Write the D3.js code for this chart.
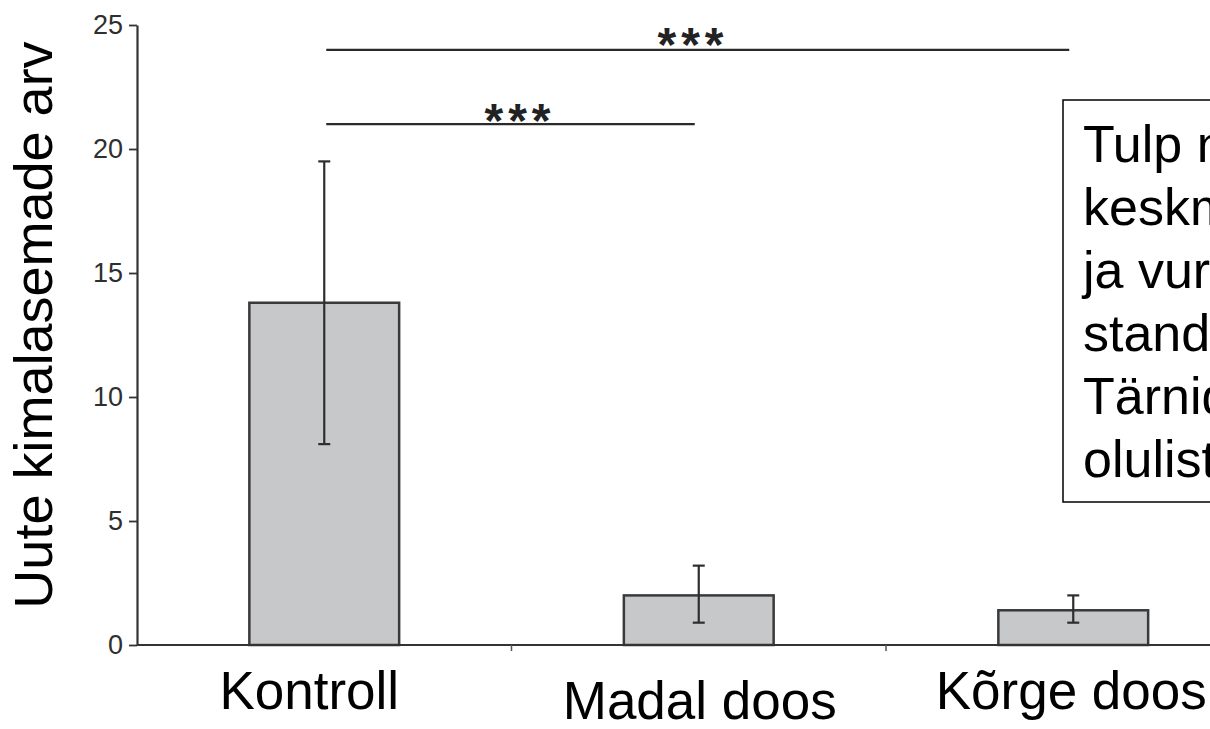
<!DOCTYPE html>
<html>
<head>
<meta charset="utf-8">
<script src="https://cdn.jsdelivr.net/npm/d3@7"></script>
<style>
  html, body { margin: 0; padding: 0; background: #fff; }
  svg { display: block; }
  text { font-family: Arial, "Liberation Sans", sans-serif; }
</style>
</head>
<body>
<svg id="chart" width="1210" height="729"></svg>
<script>
// Group names and measured means with the ends of their spread whiskers
const categories = ["Kontroll", "Madal doos", "Kõrge doos"];
const means = [13.8, 2.0, 1.4];
const whiskerLow = [8.1, 0.9, 0.9];
const whiskerHigh = [19.5, 3.2, 2.0];

// y-axis ticks
const yTicks = [0, 5, 10, 15, 20, 25];

// significance brackets: from group, to group, level, label
const bracketFrom = ["Kontroll", "Kontroll"];
const bracketTo = ["Madal doos", "Kõrge doos"];
const bracketLevel = [21.0, 24.0];
const bracketLabel = ["***", "***"];

// explanation box text lines
const noteLines = ["Tulp näitab", "keskmist", "ja vurrud", "standardhälvet.", "Tärnid näitavad", "olulist erinevust."];

const yTitle = "Uute kimalasemade arv";

const svg = d3.select("#chart");

const x = d3.scalePoint().domain(categories).range([137, 1260.5]).padding(0.5);
const step = x.step();
const barW = step * 0.4;
const y = d3.scaleLinear().domain([0, 25]).range([645, 25]);

const ink = "#333";

// bars
svg.append("g").selectAll("rect")
  .data(categories)
  .join("rect")
  .attr("x", (d) => x(d) - barW / 2)
  .attr("y", (d, i) => y(means[i]))
  .attr("width", barW)
  .attr("height", (d, i) => y(0) - y(means[i]))
  .attr("fill", "#c7c8ca")
  .attr("stroke", "#3a3a3a")
  .attr("stroke-width", 2.5);

// whiskers
const wg = svg.append("g").attr("stroke", "#2e2e2e").attr("stroke-width", 2.2);
categories.forEach((c, i) => {
  const cx = x(c);
  wg.append("line").attr("x1", cx).attr("x2", cx)
    .attr("y1", y(whiskerLow[i])).attr("y2", y(whiskerHigh[i]));
  [whiskerLow[i], whiskerHigh[i]].forEach((v) => {
    wg.append("line").attr("x1", cx - 6).attr("x2", cx + 6)
      .attr("y1", y(v)).attr("y2", y(v));
  });
});

// y axis
const yAxis = svg.append("g")
  .attr("transform", "translate(137,0)")
  .call(d3.axisLeft(y).tickValues(yTicks).tickSize(8).tickSizeOuter(0).tickPadding(6));
yAxis.select(".domain").attr("stroke", ink).attr("stroke-width", 2.2);
yAxis.selectAll(".tick line").attr("stroke", ink).attr("stroke-width", 1.8);
yAxis.selectAll(".tick text")
  .attr("fill", "#2f2f2f")
  .attr("font-size", 27)
  .attr("font-family", "Arial, 'Liberation Sans', sans-serif");

// x axis line with boundary ticks between groups
const xAxisG = svg.append("g");
xAxisG.append("line")
  .attr("x1", 137).attr("x2", 1260.5)
  .attr("y1", y(0)).attr("y2", y(0))
  .attr("stroke", ink).attr("stroke-width", 2.2);
xAxisG.selectAll("line.sep")
  .data(categories.slice(1))
  .join("line")
  .attr("class", "sep")
  .attr("x1", (d) => x(d) - step / 2).attr("x2", (d) => x(d) - step / 2)
  .attr("y1", y(0)).attr("y2", y(0) + 6)
  .attr("stroke", "#555").attr("stroke-width", 1.5);

// category labels
const labelShift = [-15, 1, -2];
const labelBase = [709, 719, 709];
svg.append("g").selectAll("text")
  .data(categories)
  .join("text")
  .attr("x", (d, i) => x(d) + labelShift[i])
  .attr("y", (d, i) => labelBase[i])
  .attr("text-anchor", "middle")
  .attr("font-size", 53)
  .attr("fill", "#000")
  .text((d) => d);

// y title
svg.append("text")
  .attr("transform", "translate(52,325) rotate(-90)")
  .attr("text-anchor", "middle")
  .attr("font-size", 54)
  .attr("fill", "#000")
  .text(yTitle);

// significance brackets
const bg = svg.append("g");
bracketFrom.forEach((f, i) => {
  const x1 = x(f), x2 = x(bracketTo[i]);
  const ly = y(bracketLevel[i]);
  bg.append("line")
    .attr("x1", x1 + 2).attr("x2", x2 - 4)
    .attr("y1", ly).attr("y2", ly)
    .attr("stroke", "#2a2a2a").attr("stroke-width", 2.2);
});
// star labels
const starX = [520, 693];
const starBase = [137, 61];
bg.selectAll("text")
  .data(bracketLabel)
  .join("text")
  .attr("x", (d, i) => starX[i])
  .attr("y", (d, i) => starBase[i])
  .attr("text-anchor", "middle")
  .attr("font-size", 48)
  .attr("font-weight", "bold")
  .attr("letter-spacing", 5)
  .attr("fill", "#222")
  .text((d) => d);

// explanation box
const box = svg.append("g");
box.append("rect")
  .attr("x", 1063).attr("y", 100)
  .attr("width", 300).attr("height", 402)
  .attr("fill", "#fff")
  .attr("stroke", "#000").attr("stroke-width", 1.5);
box.selectAll("text")
  .data(noteLines)
  .join("text")
  .attr("x", 1083)
  .attr("y", (d, i) => 162 + i * 63)
  .attr("font-size", 52)
  .attr("fill", "#000")
  .text((d) => d);
</script>
</body>
</html>
